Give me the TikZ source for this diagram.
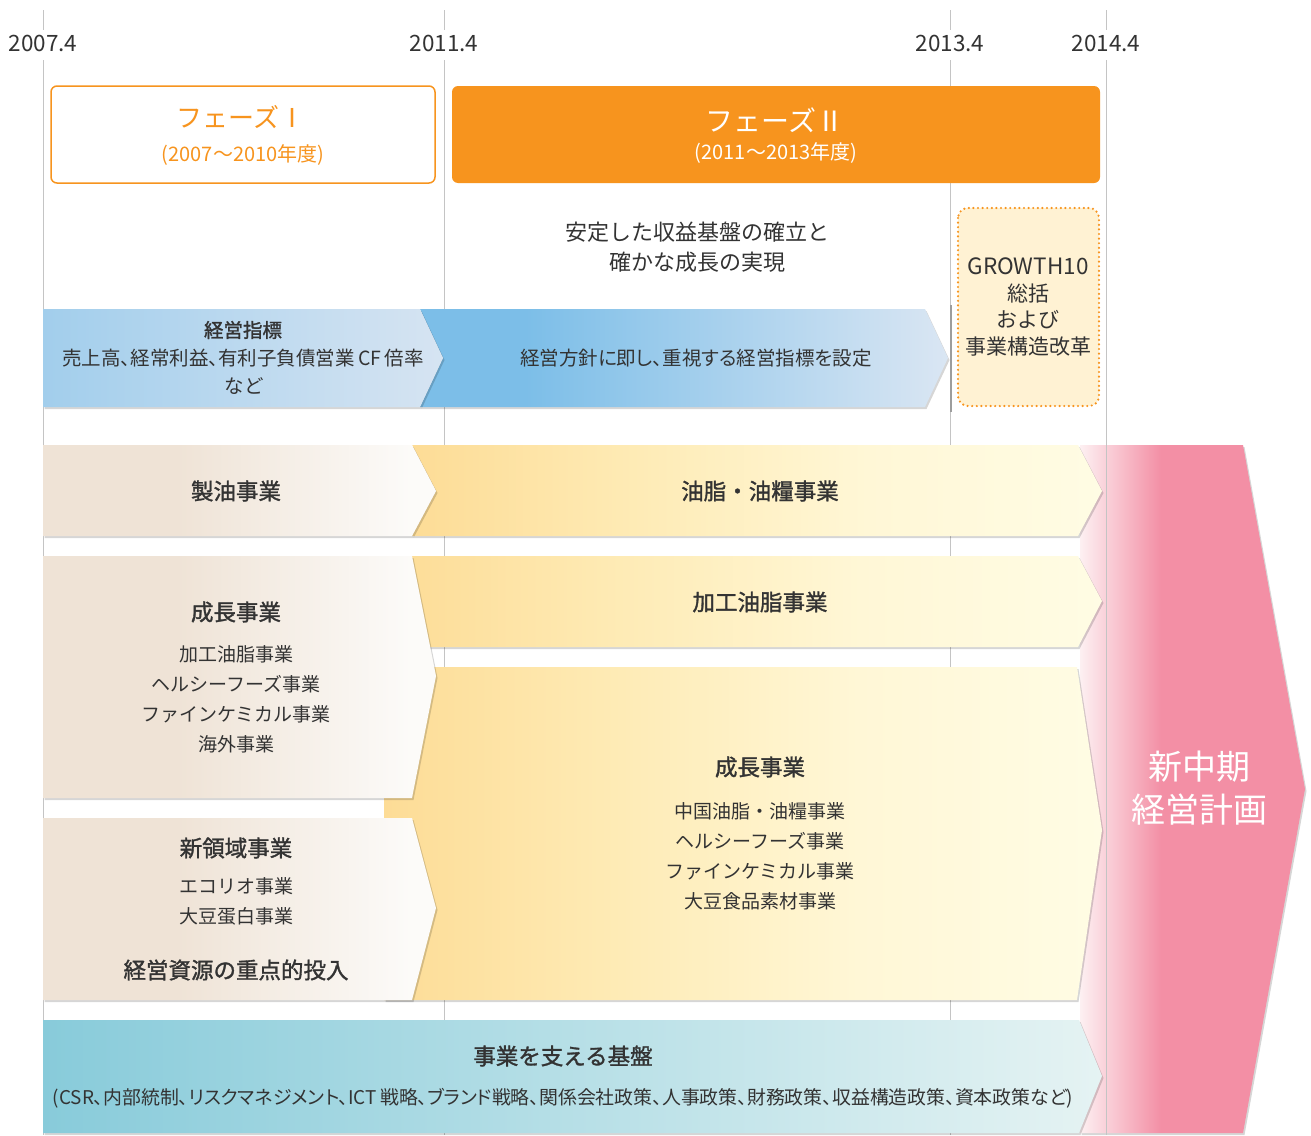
\documentclass[tikz,border=0pt]{standalone}
\usepackage{fontspec}
\setmainfont{Noto Sans CJK JP}[BoldFont={Noto Sans CJK JP}, BoldFeatures={FakeBold=1.4}]
\newfontfamily\paltfont{Noto Sans CJK JP}[RawFeature=+palt, BoldFont={Noto Sans CJK JP}, BoldFeatures={FakeBold=1.4}]
\usetikzlibrary{shadows}
\definecolor{orangeM}{HTML}{F7941E}
\definecolor{gridgray}{HTML}{C4C4C4}
\definecolor{textdark}{HTML}{333333}
\definecolor{beigeA}{HTML}{EFE3D6}
\definecolor{beigeB}{HTML}{FCFBF9}
\definecolor{yelA}{HTML}{FDDC96}
\definecolor{yelB}{HTML}{FEEAB3}
\definecolor{yelC}{HTML}{FFF7D6}
\definecolor{yelD}{HTML}{FFFCE4}
\definecolor{blueA}{HTML}{A2CEEC}
\definecolor{blueB}{HTML}{D6E4F2}
\definecolor{blueC}{HTML}{7CBEE8}
\definecolor{blueD}{HTML}{DAE6F3}
\definecolor{tealA}{HTML}{88CBDA}
\definecolor{tealB}{HTML}{E5F3F3}
\definecolor{pinkM}{HTML}{F38FA5}
\definecolor{pinkL}{HTML}{FDF0F2}
\definecolor{growthfill}{HTML}{FFF2D3}
\pgfdeclarehorizontalshading{beigeS}{100bp}{color(0bp)=(beigeA); color(25bp)=(beigeA); color(42bp)=(beigeA); color(72bp)=(beigeB); color(100bp)=(beigeB)}
\pgfdeclarehorizontalshading{yelS}{100bp}{color(0bp)=(yelA); color(25bp)=(yelA); color(40bp)=(yelB); color(58bp)=(yelC); color(75bp)=(yelD); color(100bp)=(yelD)}
\pgfdeclarehorizontalshading{blueoneS}{100bp}{color(0bp)=(blueA); color(25bp)=(blueA); color(75bp)=(blueB); color(100bp)=(blueB)}
\pgfdeclarehorizontalshading{bluetwoS}{100bp}{color(0bp)=(blueC); color(25bp)=(blueC); color(35bp)=(blueC); color(75bp)=(blueD); color(100bp)=(blueD)}
\pgfdeclarehorizontalshading{tealS}{100bp}{color(0bp)=(tealA); color(25bp)=(tealA); color(75bp)=(tealB); color(100bp)=(tealB)}
\pgfdeclarehorizontalshading{pinkS}{100bp}{color(0bp)=(pinkL); color(25bp)=(pinkL); color(43bp)=(pinkM); color(100bp)=(pinkM)}
\tikzset{
  gridline/.style={draw=gridgray, line width=0.9pt},
  yearlbl/.style={font=\fontsize{22.5}{22.5}\selectfont, text=textdark, inner sep=0pt},
  lbl/.style={text=textdark, inner sep=0pt, align=center},
  ttl/.style={lbl, font=\fontsize{22.5}{26}\selectfont\bfseries},
  sub/.style={lbl, font=\fontsize{19}{30}\selectfont},
  softshadow/.style={drop shadow={shadow xshift=1.5pt, shadow yshift=-2pt, opacity=0.16, fill=black}},
}
\begin{document}
\begin{tikzpicture}[x=1pt,y=-1pt]
\useasboundingbox[fill=white] (0,0) rectangle (1311,1135);
% timeline grid
\foreach \gx in {43,444,950,1106}{
  \draw[gridline] (\gx,10) -- (\gx,30);
  \draw[gridline] (\gx,60) -- (\gx,1135);
}
\node[yearlbl] (y1) at (43,43) {2007.4};
\node[yearlbl] (y2) at (444,43) {2011.4};
\node[yearlbl] (y3) at (950,43) {2013.4};
\node[yearlbl] (y4) at (1106,43) {2014.4};
% phases
\draw[orangeM, line width=1.5pt, fill=white, rounded corners=6pt] (51,86) rectangle (435,183);
\node[inner sep=0pt, text=orangeM, font=\fontsize{26}{26}\selectfont] (p1a) at (241,117) {フェーズⅠ};
\node[inner sep=0pt, text=orangeM, font=\fontsize{20}{20}\selectfont] (p1b) at (243,155) {(2007～2010年度)};
\fill[orangeM, rounded corners=6pt] (452,86) rectangle (1100,183);
\node[inner sep=0pt, text=white, font=\fontsize{28}{28}\selectfont] (p2a) at (775,120) {フェーズⅡ};
\node[inner sep=0pt, text=white, font=\fontsize{20}{20}\selectfont] (p2b) at (776,153) {(2011～2013年度)};
% centre statement
\node[lbl, font=\fontsize{22}{30}\selectfont] (goal) at (697,247) {安定した収益基盤の確立と\\確かな成長の実現};
% growth10 box
\draw[orangeM, fill=growthfill, line width=2.4pt, line cap=round, dash pattern=on 0pt off 4.6pt, rounded corners=10pt] (958,208) rectangle (1099,406);
\node[lbl, font=\fontsize{21}{26.7}\selectfont] (g10) at (1028,307) {{\fontsize{22.5}{26.7}\selectfont GROWTH10}\\総括\\および\\事業構造改革};
% pink arrow
\shade[shading=pinkS, softshadow] (1080,445) -- (1243,445) -- (1305,789) -- (1243,1133) -- (1080,1133) -- cycle;
\draw[gridline] (1106,445) -- (1106,1135);
\node[inner sep=0pt, text=white, align=center, font=\fontsize{34}{43}\selectfont] (plan) at (1199,788) {新中期\\経営計画};
% blue arrows
\shade[shading=bluetwoS, softshadow] (420,309) -- (925,309) -- (948,358) -- (925,407) -- (420,407) -- (443,358) -- cycle;
\shade[shading=blueoneS, softshadow] (43,309) -- (420,309) -- (443,358) -- (420,407) -- (43,407) -- cycle;
\draw[gridgray!80!black, line width=2pt] (951,305) -- (951,412);
\node[lbl, font=\fontsize{19.5}{19.5}\selectfont\bfseries] (kpia) at (243,330) {経営指標};
\node[lbl, font=\paltfont\fontsize{19.5}{19.5}\selectfont] (kpib) at (243,358) {売上高、経常利益、有利子負債営業\,CF\,倍率};
\node[lbl, font=\fontsize{19.5}{19.5}\selectfont] (kpic) at (244,386) {など};
\node[lbl, font=\paltfont\fontsize{19.5}{19.5}\selectfont] (kpi2) at (696,358) {経営方針に即し、重視する経営指標を設定};
% yellow arrows (2011-2014)
\shade[shading=yelS, softshadow] (412,445) -- (1078,445) -- (1102,491) -- (1078,536) -- (412,536) -- (436,491) -- cycle;
\shade[shading=yelS, softshadow] (391,556) -- (1078,556) -- (1102,601) -- (1078,647) -- (391,647) -- cycle;
\shade[shading=yelS, softshadow] (384,667) -- (1077,667) -- (1102,830) -- (1077,1000) -- (384,1000) -- cycle;
% beige arrows (2007-2011)
\shade[shading=beigeS, softshadow] (43,445) -- (412,445) -- (436,491) -- (412,536) -- (43,536) -- cycle;
\shade[shading=beigeS, softshadow] (43,556) -- (412,556) -- (436,676) -- (412,798) -- (43,798) -- cycle;
\shade[shading=beigeS, softshadow] (43,818) -- (412,818) -- (436,908) -- (412,1000) -- (43,1000) -- cycle;
% teal foundation
\shade[shading=tealS, softshadow] (43,1020) -- (1079,1020) -- (1102,1076) -- (1079,1133) -- (43,1133) -- cycle;
% row texts
\node[ttl] (r1l) at (236,491) {製油事業};
\node[ttl] (r1r) at (760,491) {油脂・油糧事業};
\node[ttl] (r2r) at (760,602) {加工油脂事業};
\node[ttl] (r2l) at (236,612) {成長事業};
\node[sub] (r2ls) at (236,699) {加工油脂事業\\ヘルシーフーズ事業\\ファインケミカル事業\\海外事業};
\node[ttl] (r3l) at (236,848) {新領域事業};
\node[sub] (r3ls) at (236,901) {エコリオ事業\\大豆蛋白事業};
\node[ttl] (r3l2) at (236,970) {経営資源の重点的投入};
\node[ttl] (r3r) at (760,767) {成長事業};
\node[sub] (r3rs) at (760,856) {中国油脂・油糧事業\\ヘルシーフーズ事業\\ファインケミカル事業\\大豆食品素材事業};
\node[ttl] (base) at (563,1056) {事業を支える基盤};
\node[lbl, font=\paltfont\fontsize{18.9}{18.9}\selectfont] (bases) at (563,1098) {(CSR、内部統制、リスクマネジメント、ICT\,戦略、ブランド戦略、関係会社政策、人事政策、財務政策、収益構造政策、資本政策など)};
\end{tikzpicture}
\end{document}
